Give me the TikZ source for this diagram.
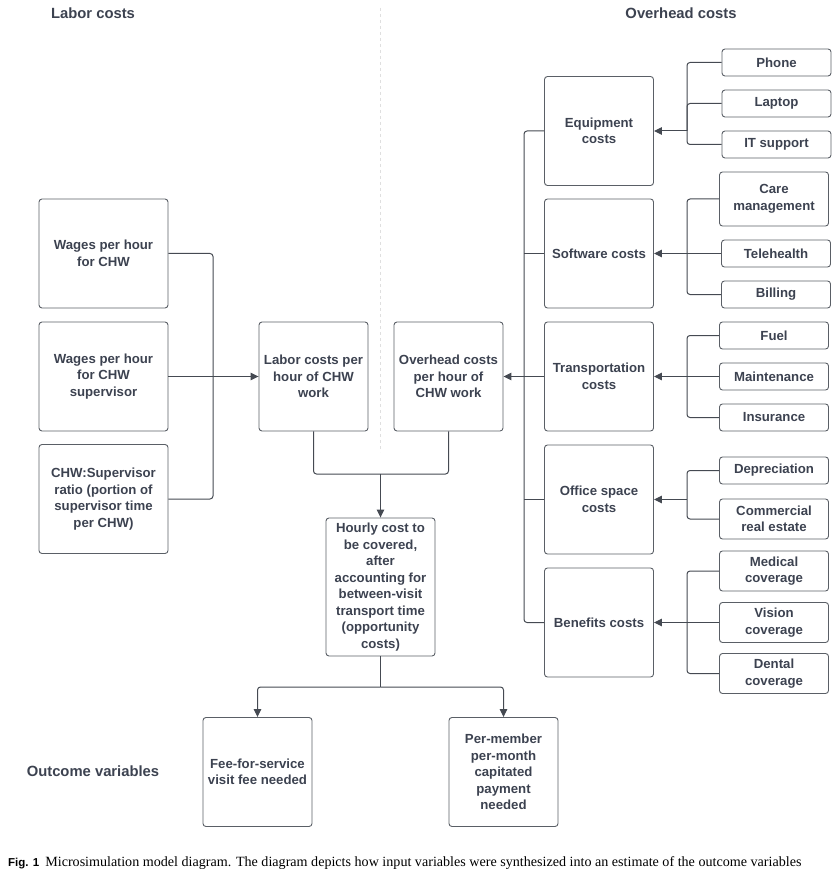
\documentclass[tikz,border=0pt]{standalone}
\usepackage{fontspec}
\setmainfont{Liberation Serif}
\setsansfont{Liberation Sans}
\usetikzlibrary{arrows.meta}
\definecolor{ink}{HTML}{3C4250}
\definecolor{rim}{HTML}{5A5F66}
\definecolor{wire}{HTML}{454A52}
\begin{document}
\begin{tikzpicture}[x=1pt,y=-1pt,
    box/.style={draw=rim,line width=0.9pt,rounded corners=3pt,align=center,
      text=ink,font=\sffamily\bfseries\fontsize{13.2}{16.5}\selectfont,inner sep=1pt},
    big/.style={box,minimum width=109pt,minimum height=109pt},
    wide/.style={box,minimum width=129pt,minimum height=109pt},
    small/.style={box,minimum width=109pt,minimum height=27pt},
    tall/.style={box,minimum width=109pt,minimum height=40pt},
    head/.style={text=ink,font=\sffamily\bfseries\fontsize{14.8}{17}\selectfont,inner sep=0pt},
    wire/.style={draw=wire,line width=1pt,rounded corners=3pt},
    feed/.style={wire,-{Triangle[length=8pt,width=7.5pt]}}]
  \useasboundingbox (0,0) rectangle (837,874);
  \draw
    (93,13) node[head] (hlab){Labor costs}
    (681,13) node[head] (hover){Overhead costs}
    (93,771) node[head] (hout){Outcome variables}
    (103.5,253.5) node[wide] (wchw){Wages per hour\\for CHW}
    (103.5,376.5) node[wide] (wsup){Wages per hour\\for CHW\\supervisor}
    (103.5,499) node[wide] (ratio){CHW:Supervisor\\ratio (portion of\\supervisor time\\per CHW)}
    (313.5,376.5) node[big] (labor){Labor costs per\\hour of CHW\\work}
    (448.5,376.5) node[big] (over){Overhead costs\\per hour of\\CHW work}
    (380.5,587) node[box,minimum width=109pt,minimum height=138pt] (hourly){Hourly cost to\\be covered,\\after\\accounting for\\between-visit\\transport time\\(opportunity\\costs)}
    (257.5,772) node[big] (fee){Fee-for-service\\visit fee needed}
    (503.5,772) node[big] (pmpm){Per-member\\per-month\\capitated\\payment\\needed}
    (599,131) node[big] (equip){Equipment\\costs}
    (599,253.5) node[big] (soft){Software costs}
    (599,376.5) node[big] (trans){Transportation\\costs}
    (599,499.5) node[big] (office){Office space\\costs}
    (599,622.5) node[big] (benef){Benefits costs}
    (776.5,62.5) node[small] (phone){Phone}
    (776.5,103.5) node[small] (laptop){Laptop}
    (776.5,144.5) node[small] (itsup){IT support}
    (774,199) node[tall,minimum height=54pt] (care){Care\\management}
    (776,253.5) node[small] (tele){Telehealth}
    (776,294.5) node[small] (bill){Billing}
    (774,335.5) node[small] (fuel){Fuel}
    (774,376.5) node[small] (maint){Maintenance}
    (774,417.5) node[small] (insur){Insurance}
    (774,470.5) node[small] (depr){Depreciation}
    (774,519) node[tall] (comm){Commercial\\real estate}
    (774,571) node[tall] (medic){Medical\\coverage}
    (774,622.5) node[tall] (vision){Vision\\coverage}
    (774,673.5) node[tall] (dental){Dental\\coverage};
  \draw[gray!25,dashed,line width=0.6pt] (380.5,8) -- (380.5,452);
  \coordinate (lbus) at (213,376.5);
  \coordinate (obus) at (524,376.5);
  \coordinate (mj) at (380.5,474);
  \coordinate (hs) at (380.5,687);
  \coordinate (ebus) at (687,131);
  \coordinate (sbus) at (687,253.5);
  \coordinate (tbus) at (687,376.5);
  \coordinate (fbus) at (687,499.5);
  \coordinate (bbus) at (687,622.5);
  \begin{scope}[wire]
    \draw (wchw.east) -| (lbus) |- (ratio.east);
    \draw (wsup.east) -- (lbus);
    \draw (equip.west) -| (obus) |- (benef.west);
    \draw (soft.west) -- (soft.west -| obus);
    \draw (trans.west) -- (obus);
    \draw (office.west) -- (office.west -| obus);
    \draw (labor.south) |- (mj) -| (over.south);
    \draw (hourly.south) -- (hs);
    \draw (phone.west) -| (ebus) |- (itsup.west);
    \draw (laptop.west) -| (ebus);
    \draw (care.west) -| (sbus) |- (bill.west);
    \draw (tele.west) -- (sbus);
    \draw (fuel.west) -| (tbus) |- (insur.west);
    \draw (maint.west) -- (tbus);
    \draw (depr.west) -| (fbus) |- (comm.west);
    \draw (medic.west) -| (bbus) |- (dental.west);
    \draw (vision.west) -- (bbus);
  \end{scope}
  \begin{scope}[feed]
    \draw (lbus) -- (labor.west);
    \draw (obus) -- (over.east);
    \draw (mj) -- (hourly.north);
    \draw (hs) -| (fee.north);
    \draw (hs) -| (pmpm.north);
    \draw (ebus) -- (equip.east);
    \draw (sbus) -- (soft.east);
    \draw (tbus) -- (trans.east);
    \draw (fbus) -- (office.east);
    \draw (bbus) -- (benef.east);
  \end{scope}
  \node[anchor=base west,inner sep=0pt,font=\fontsize{14.1}{16}\selectfont] (cap) at (8,866)
    {{\sffamily\bfseries\fontsize{11.5}{16}\selectfont Fig. 1}\hspace{6pt}Microsimulation model diagram. The diagram depicts how input variables were synthesized into an estimate of the outcome variables};
\end{tikzpicture}
\end{document}
